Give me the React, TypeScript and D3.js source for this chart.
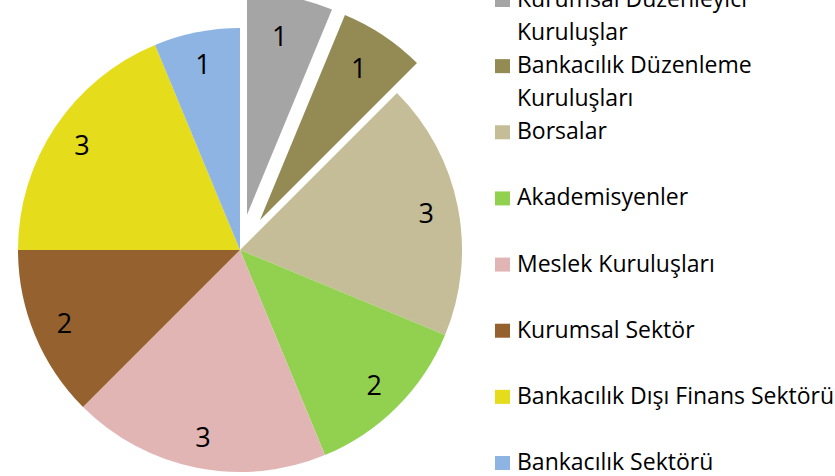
import React from "react";
import * as d3 from "d3";

// ---------- Data ----------
const categories = [
  "Kurumsal Düzenleyici Kuruluşlar",
  "Bankacılık Düzenleme Kuruluşları",
  "Borsalar",
  "Akademisyenler",
  "Meslek Kuruluşları",
  "Kurumsal Sektör",
  "Bankacılık Dışı Finans Sektörü",
  "Bankacılık Sektörü",
];
const values = [1, 1, 3, 2, 3, 2, 3, 1];
// legend wraps the two long names onto two lines
const legendLines = [
  ["Kurumsal Düzenleyici", "Kuruluşlar"],
  ["Bankacılık Düzenleme", "Kuruluşları"],
  ["Borsalar"],
  ["Akademisyenler"],
  ["Meslek Kuruluşları"],
  ["Kurumsal Sektör"],
  ["Bankacılık Dışı Finans Sektörü"],
  ["Bankacılık Sektörü"],
];

const colors = [
  "#a5a5a5",
  "#948a54",
  "#c4bd97",
  "#92d050",
  "#e2b5b5",
  "#95622f",
  "#e5dc1c",
  "#8eb4e3",
];

const W = 835;
const H = 476;
const cx = 240;
const cy = 250;
const R = 222;
const explodeBy = 36;
const labelR = 190;
const explodedIdx = new Set([0, 1]);

const App: React.FC = () => {
  const pie = d3
    .pie<number>()
    .sort(null)
    .value((d) => d);
  const arcs = pie(values);
  const arc = d3.arc<d3.PieArcDatum<number>>().innerRadius(0).outerRadius(R);

  const color = d3.scaleOrdinal<number, string>().domain(d3.range(values.length)).range(colors);

  // legend rows: fixed pitch per category
  const legendY = d3
    .scaleLinear()
    .domain([0, categories.length - 1])
    .range([7, 470]);

  return (
    <svg
      width={W}
      height={H}
      style={{ position: "absolute", left: 0, top: 0, background: "#fff" }}
      fontFamily="'Open Sans', sans-serif"
    >
      <g transform={`translate(${cx},${cy})`}>
        {arcs.map((a, i) => {
          const mid = (a.startAngle + a.endAngle) / 2;
          const off = explodedIdx.has(i) ? explodeBy : 0;
          const dx = Math.sin(mid) * off;
          const dy = -Math.cos(mid) * off;
          return (
            <g key={i} transform={`translate(${dx},${dy})`}>
              <path d={arc(a) || ""} fill={color(i)} />
            </g>
          );
        })}
        {arcs.map((a, i) => {
          const mid = (a.startAngle + a.endAngle) / 2;
          const off = explodedIdx.has(i) ? explodeBy - 7 : 0;
          const r = labelR + off;
          return (
            <text
              key={"l" + i}
              x={Math.sin(mid) * r - (explodedIdx.has(i) ? 3 : 0)}
              y={-Math.cos(mid) * r}
              textAnchor="middle"
              dominantBaseline="central"
              fontSize={27}
              fill="#000"
            >
              {a.data}
            </text>
          );
        })}
      </g>
      <g>
        {legendLines.map((lines, i) => {
          const y = legendY(i);
          return (
            <g key={"lg" + i}>
              <rect x={495} y={y - 14} width={15} height={14} fill={color(i)} />
              {lines.map((t, j) => (
                <text key={j} x={517} y={y + j * 33} fontSize={23} fill="#000">
                  {t}
                </text>
              ))}
            </g>
          );
        })}
      </g>
    </svg>
  );
};

export default App;
